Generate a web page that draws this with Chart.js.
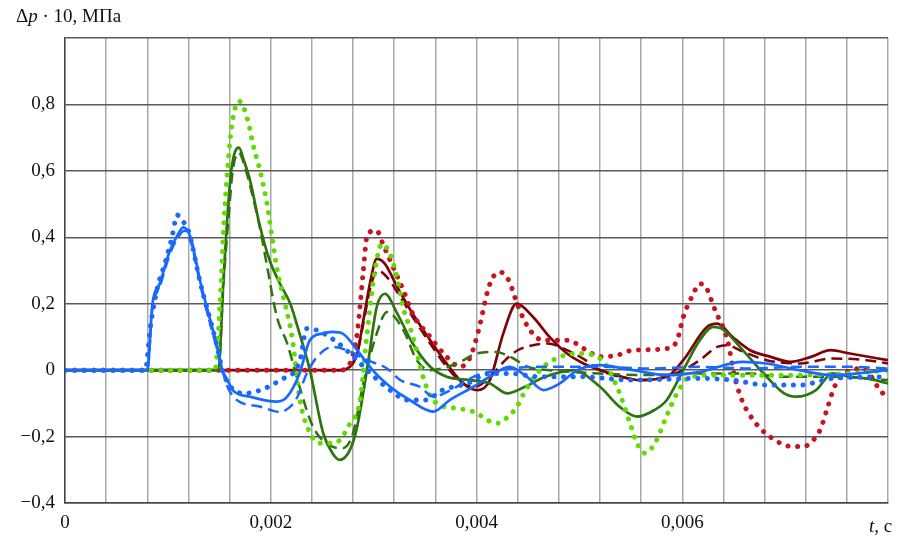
<!DOCTYPE html>
<html>
<head>
<meta charset="utf-8">
<script src="https://cdn.jsdelivr.net/npm/chart.js@4/dist/chart.umd.min.js"></script>
<style>
  html, body { margin: 0; padding: 0; background: #fff; }
  #wrap { width: 909px; height: 540px; position: relative; }
</style>
</head>
<body>
<div id="wrap"><canvas id="myChart"></canvas></div>
<script>
// time points (s) and pressure values (Δp·10, MPa)
const blueSolidT  = [0, 0.0008, 0.00085, 0.00092, 0.00102, 0.0011, 0.00115, 0.00122, 0.00132, 0.00148, 0.00153, 0.00158, 0.00163, 0.0018, 0.00206, 0.00216, 0.00228, 0.00238, 0.0025, 0.0026, 0.0027, 0.00284, 0.00299, 0.00316, 0.00335, 0.00358, 0.00374, 0.00397, 0.00413, 0.00432, 0.00449, 0.00465, 0.00481, 0.00498, 0.0052, 0.00552, 0.00585, 0.00617, 0.00659, 0.00682, 0.00714, 0.00746, 0.008];
const blueSolid   = [0, 0, 0.2, 0.26, 0.36, 0.41, 0.43, 0.4, 0.26, 0.07, 0, -0.03, -0.06, -0.08, -0.095, -0.08, -0.01, 0.09, 0.11, 0.115, 0.11, 0.06, 0, -0.05, -0.09, -0.125, -0.09, -0.05, -0.02, 0.01, -0.02, -0.06, -0.04, 0, 0.015, 0, -0.015, -0.005, 0.025, 0.02, 0, -0.015, 0];

const blueDashT   = [0, 0.0008, 0.00085, 0.00092, 0.00102, 0.0011, 0.00116, 0.00122, 0.00132, 0.00148, 0.00153, 0.00158, 0.00167, 0.0019, 0.00209, 0.00219, 0.00226, 0.00235, 0.00245, 0.0026, 0.00274, 0.00294, 0.00313, 0.00326, 0.00345, 0.00358, 0.00375, 0.00397, 0.00423, 0.00462, 0.0052, 0.00569, 0.00617, 0.00666, 0.00714, 0.00763, 0.008];
const blueDash    = [0, 0, 0.19, 0.25, 0.35, 0.4, 0.42, 0.39, 0.25, 0.06, 0, -0.05, -0.09, -0.11, -0.126, -0.11, -0.08, -0.01, 0.04, 0.07, 0.06, 0.03, 0.005, -0.03, -0.05, -0.08, -0.06, -0.02, 0, 0.01, 0.01, 0.005, 0.01, 0.005, 0.01, 0.01, 0.005];

const blueDotT    = [0, 0.00078, 0.00083, 0.0009, 0.00097, 0.00104, 0.00109, 0.00114, 0.0012, 0.00131, 0.00148, 0.00153, 0.00161, 0.00175, 0.0019, 0.00209, 0.00228, 0.00235, 0.00245, 0.00264, 0.00284, 0.00297, 0.00316, 0.00333, 0.0035, 0.00367, 0.00391, 0.00413, 0.00432, 0.00462, 0.00501, 0.00552, 0.00617, 0.00649, 0.00682, 0.00714, 0.00746, 0.008];
const blueDot     = [0, 0, 0.13, 0.25, 0.32, 0.4, 0.467, 0.45, 0.42, 0.27, 0.07, 0, -0.05, -0.07, -0.06, -0.03, 0.025, 0.125, 0.12, 0.085, 0.03, -0.01, -0.06, -0.09, -0.09, -0.06, -0.04, -0.01, -0.01, -0.02, -0.02, -0.03, -0.025, -0.03, -0.045, -0.045, -0.025, -0.02];

const greenSolidT = [0, 0.00149, 0.00154, 0.00158, 0.00162, 0.00169, 0.00174, 0.0018, 0.00189, 0.00199, 0.00209, 0.00219, 0.00228, 0.00238, 0.00251, 0.0026, 0.00267, 0.00277, 0.00284, 0.00294, 0.00303, 0.00311, 0.00323, 0.00338, 0.00355, 0.00371, 0.00394, 0.00413, 0.0043, 0.00447, 0.00467, 0.00494, 0.0052, 0.00539, 0.00556, 0.00573, 0.00585, 0.00601, 0.00617, 0.0063, 0.00641, 0.00656, 0.00682, 0.00699, 0.00711, 0.0073, 0.00746, 0.00763, 0.00779, 0.008];
const greenSolid  = [0, 0, 0.27, 0.47, 0.61, 0.67, 0.63, 0.57, 0.44, 0.33, 0.26, 0.2, 0.11, 0, -0.19, -0.25, -0.27, -0.24, -0.17, 0.01, 0.19, 0.23, 0.17, 0.08, 0.01, -0.02, -0.03, -0.04, -0.07, -0.05, -0.02, 0, -0.05, -0.11, -0.14, -0.12, -0.09, 0, 0.09, 0.13, 0.12, 0.07, -0.02, -0.07, -0.08, -0.06, -0.01, -0.02, -0.025, -0.04];

const greenDashT  = [0, 0.00149, 0.00154, 0.00159, 0.00163, 0.00169, 0.00175, 0.00182, 0.0019, 0.00196, 0.00206, 0.00216, 0.00228, 0.00241, 0.0026, 0.0027, 0.0028, 0.0029, 0.00303, 0.00313, 0.00329, 0.00342, 0.00355, 0.00381, 0.004, 0.00419, 0.00433, 0.0045, 0.00471, 0.00520, 0.00569, 0.00617, 0.00666, 0.00698, 0.00746, 0.008];
const greenDash   = [0, 0, 0.26, 0.46, 0.6, 0.655, 0.61, 0.53, 0.42, 0.32, 0.16, 0.08, -0.05, -0.17, -0.23, -0.235, -0.19, -0.04, 0.11, 0.175, 0.12, 0.03, 0, 0.02, 0.05, 0.055, 0.04, 0.01, 0, -0.01, -0.015, -0.01, -0.01, -0.02, -0.02, -0.03];

const greenDotT   = [0, 0.001458, 0.001507, 0.001546, 0.001584, 0.001623, 0.001691, 0.001779, 0.001827, 0.001896, 0.001964, 0.002012, 0.00207, 0.002139, 0.002207, 0.002284, 0.002382, 0.002479, 0.002576, 0.002673, 0.00277, 0.002868, 0.002936, 0.003013, 0.003081, 0.003159, 0.003227, 0.003286, 0.003383, 0.00348, 0.003577, 0.003791, 0.003908, 0.004005, 0.004102, 0.004209, 0.004306, 0.004394, 0.004442, 0.004617, 0.004812, 0.005006, 0.005201, 0.005366, 0.005492, 0.00556, 0.005638, 0.005735, 0.005852, 0.005949, 0.006075, 0.006367, 0.007145, 0.007631, 0.008];
const greenDot    = [0, 0, 0.2, 0.45, 0.62, 0.74, 0.81, 0.75, 0.68, 0.6, 0.5, 0.4, 0.29, 0.2, 0.1, -0.09, -0.19, -0.22, -0.22, -0.21, -0.16, -0.09, 0.11, 0.3, 0.38, 0.35, 0.28, 0.19, 0.1, -0.02, -0.09, -0.115, -0.12, -0.13, -0.15, -0.16, -0.14, -0.11, -0.08, 0, 0.04, 0.05, 0.035, -0.05, -0.16, -0.22, -0.25, -0.22, -0.135, -0.07, -0.02, -0.015, -0.015, -0.01, 0];

const redSolidT   = [0, 0.00267, 0.00277, 0.00284, 0.0029, 0.00297, 0.00303, 0.00311, 0.00323, 0.00338, 0.00355, 0.00371, 0.00387, 0.00401, 0.00413, 0.00426, 0.00439, 0.00455, 0.00471, 0.00488, 0.00504, 0.0052, 0.00536, 0.00559, 0.00585, 0.00601, 0.00624, 0.00634, 0.00649, 0.00666, 0.00686, 0.00705, 0.00725, 0.00744, 0.00763, 0.008];
const redSolid    = [0, 0, 0.01, 0.05, 0.15, 0.27, 0.335, 0.32, 0.25, 0.17, 0.09, 0.02, -0.04, -0.06, -0.03, 0.11, 0.2, 0.16, 0.1, 0.05, 0.02, 0, -0.015, -0.03, -0.02, 0.03, 0.13, 0.14, 0.1, 0.06, 0.04, 0.025, 0.04, 0.06, 0.05, 0.03];

const redDashT    = [0, 0.00267, 0.00277, 0.00284, 0.0029, 0.00297, 0.00304, 0.00313, 0.00326, 0.0034, 0.00355, 0.00371, 0.00387, 0.00399, 0.00413, 0.00428, 0.0044, 0.00455, 0.00469, 0.00488, 0.00506, 0.0052, 0.00539, 0.00563, 0.00583, 0.00601, 0.00617, 0.00634, 0.00644, 0.00656, 0.00682, 0.00714, 0.00746, 0.00779, 0.008];
const redDash     = [0, 0, 0.01, 0.05, 0.14, 0.25, 0.3, 0.28, 0.22, 0.15, 0.08, 0.01, -0.04, -0.05, -0.02, 0.03, 0.06, 0.075, 0.08, 0.06, 0.03, 0, -0.02, -0.03, -0.02, 0, 0.03, 0.07, 0.075, 0.06, 0.03, 0.02, 0.035, 0.03, 0.02];

const redDotT     = [0, 0.00267, 0.00277, 0.00284, 0.00287, 0.0029, 0.00294, 0.00303, 0.00309, 0.00319, 0.00329, 0.00338, 0.00355, 0.00371, 0.00384, 0.00394, 0.00402, 0.00411, 0.00416, 0.00423, 0.00433, 0.00436, 0.0045, 0.00465, 0.00488, 0.00507, 0.0052, 0.00537, 0.00552, 0.00585, 0.00595, 0.00601, 0.0061, 0.00617, 0.00623, 0.00632, 0.00644, 0.00651, 0.00658, 0.00669, 0.00685, 0.00707, 0.00718, 0.00726, 0.00734, 0.00741, 0.00748, 0.00758, 0.00776, 0.0079, 0.008];
const redDot      = [0, 0, 0.02, 0.11, 0.2, 0.3, 0.41, 0.42, 0.38, 0.31, 0.24, 0.17, 0.1, 0.04, 0.01, 0.04, 0.12, 0.24, 0.28, 0.295, 0.26, 0.23, 0.13, 0.09, 0.09, 0.06, 0.04, 0.045, 0.06, 0.065, 0.09, 0.16, 0.225, 0.26, 0.25, 0.18, 0.09, -0.02, -0.09, -0.15, -0.2, -0.23, -0.23, -0.215, -0.18, -0.115, -0.05, -0.01, 0.005, -0.05, -0.09];

const xTickLabels = { 0: '0', 20: '0,002', 40: '0,004', 60: '0,006' };
const yTickLabels = { '-4': '\u22120,4', '-2': '\u22120,2', 0: '0', 2: '0,2', 4: '0,4', 6: '0,6', 8: '0,8' };

const BLUE = 'rgb(25,105,255)';
const GREEN = 'rgb(45,115,15)';
const LIME = 'rgb(95,220,0)';
const DKRED = 'rgb(125,5,10)';
const RED = 'rgb(200,20,30)';

function pts(t, v) {
  return t.map((x, i) => ({ x: x, y: v[i] }));
}

function line(t, v, color, style) {
  const ds = {
    data: pts(t, v),
    borderColor: color,
    backgroundColor: color,
    pointRadius: 0,
    fill: false,
    cubicInterpolationMode: 'monotone',
    borderWidth: 2.7
  };
  if (style === 'dash') {
    ds.borderDash = [11, 6];
    ds.borderWidth = 2.5;
  } else if (style === 'dot') {
    ds.borderDash = [0.1, 9.5];
    ds.borderCapStyle = 'round';
    ds.borderWidth = 5;
  }
  return ds;
}

// axis titles with italic letters
const titles = {
  id: 'titles',
  afterDraw(chart) {
    const c = chart.ctx;
    c.save();
    c.fillStyle = '#111';
    c.textBaseline = 'alphabetic';
    let x = 16;
    const y = 22;
    c.font = '19px "Liberation Serif"';
    c.fillText('\u0394', x, y); x += c.measureText('\u0394').width;
    c.font = 'italic 19px "Liberation Serif"';
    c.fillText('p', x, y); x += c.measureText('p').width;
    c.font = '19px "Liberation Serif"';
    c.fillText(' \u00b7 10, \u041c\u041f\u0430', x, y);

    const y2 = 532;
    let x2 = 869;
    c.font = 'italic 19px "Liberation Serif"';
    c.fillText('t', x2, y2); x2 += c.measureText('t').width;
    c.font = '19px "Liberation Serif"';
    c.fillText(', c', x2, y2);
    c.restore();
  }
};

var ctx = document.getElementById('myChart').getContext('2d');
var chart = new Chart(ctx, {
  type: 'line',
  data: {
    datasets: [
      line(blueDotT, blueDot, BLUE, 'dot'),
      line(blueDashT, blueDash, BLUE, 'dash'),
      line(blueSolidT, blueSolid, BLUE, 'solid'),
      line(greenDotT, greenDot, LIME, 'dot'),
      line(greenDashT, greenDash, GREEN, 'dash'),
      line(greenSolidT, greenSolid, GREEN, 'solid'),
      line(redDotT, redDot, RED, 'dot'),
      line(redDashT, redDash, DKRED, 'dash'),
      line(redSolidT, redSolid, DKRED, 'solid')
    ]
  },
  options: {
    responsive: true,
    maintainAspectRatio: false,
    animation: false,
    layout: { padding: { top: 38, right: 21, left: 0, bottom: 0 } },
    plugins: { legend: { display: false }, tooltip: { enabled: false } },
    scales: {
      x: {
        type: 'linear',
        min: 0,
        max: 0.008,
        afterFit(scale) { scale.height = 37; },
        afterBuildTicks(scale) {
          const t = [];
          for (let i = 0; i <= 20; i++) t.push({ value: i * 0.0004 });
          scale.ticks = t;
        },
        ticks: {
          autoSkip: false,
          maxRotation: 0,
          padding: 9,
          color: '#111',
          font: { family: '"Liberation Serif"', size: 19 },
          callback(value) {
            const k = Math.round(value / 0.0001);
            return xTickLabels[k] !== undefined ? xTickLabels[k] : '';
          }
        },
        grid: { color: '#a8a8a8', lineWidth: 1.5, drawTicks: false },
        border: { color: '#444', width: 1.5 }
      },
      y: {
        min: -0.4,
        max: 1.0,
        afterFit(scale) { scale.width = 65; },
        afterBuildTicks(scale) {
          const t = [];
          for (let i = -2; i <= 5; i++) t.push({ value: i * 0.2 });
          scale.ticks = t;
        },
        ticks: {
          padding: 10,
          color: '#111',
          font: { family: '"Liberation Serif"', size: 19 },
          callback(value) {
            const k = Math.round(value * 10);
            return yTickLabels[k] !== undefined ? yTickLabels[k] : '';
          }
        },
        grid: { color: '#5a5a5a', lineWidth: 1.5, drawTicks: false },
        border: { color: '#444', width: 1.5 }
      }
    }
  },
  plugins: [titles]
});
</script>
</body>
</html>
